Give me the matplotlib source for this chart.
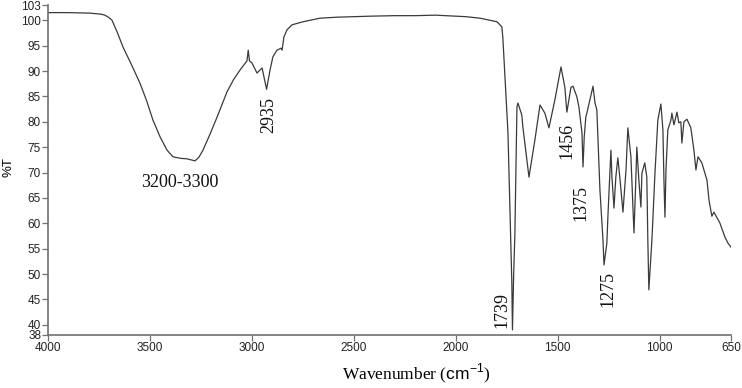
import matplotlib
matplotlib.use("Agg")
import matplotlib.pyplot as plt

# FTIR spectrum
wavenumber = [
    4000, 3900, 3794, 3740, 3721, 3700, 3686, 3660, 3632, 3590, 3549, 3515,
    3485, 3450, 3416, 3387, 3350, 3318, 3279, 3260, 3240, 3205, 3171, 3122,
    3090, 3058, 3024, 3018, 3012, 3000, 2975, 2950, 2928, 2911, 2897, 2877,
    2857, 2852, 2843, 2828, 2803, 2749, 2666, 2583, 2421, 2300, 2200, 2100,
    2000, 1950, 1881, 1798, 1774, 1769, 1744, 1725, 1722, 1716, 1710, 1700,
    1695, 1676, 1671, 1641, 1612, 1587, 1563, 1543, 1514, 1484, 1465, 1455,
    1435, 1425, 1406, 1396, 1381, 1376, 1370, 1362, 1357, 1327, 1317, 1308,
    1293, 1278, 1273, 1259, 1254, 1239, 1234, 1224, 1215, 1205, 1195, 1180,
    1165, 1156, 1141, 1126, 1117, 1112, 1102, 1092, 1087, 1073, 1063, 1058,
    1053, 1038, 1023, 1009, 994, 984, 979, 974, 969, 960, 945, 940,
    930, 915, 906, 896, 891, 881, 866, 847, 832, 822, 812, 793,
    768, 758, 744, 734, 705, 680, 665, 650,
]
transmittance = [
    101.5, 101.5, 101.4, 101.2, 101.0, 100.5, 100.0, 97.6, 94.7, 91.2, 87.6, 84.0,
    80.3, 77.0, 74.4, 73.1, 72.8, 72.7, 72.3, 73.0, 74.4, 77.6, 80.9, 85.9,
    88.3, 90.2, 92.0, 94.1, 92.0, 91.6, 89.6, 90.6, 86.4, 90.2, 92.8, 94.1,
    94.5, 94.1, 96.7, 98.1, 99.1, 99.7, 100.4, 100.6, 100.8, 100.9, 100.9, 101.0,
    100.8, 100.7, 100.4, 99.7, 98.7, 96.5, 77.8, 48.2, 39.0, 50.0, 58.1, 82.9,
    83.7, 81.3, 79.0, 69.1, 76.4, 83.3, 81.7, 78.8, 84.3, 90.8, 86.8, 81.9,
    86.8, 87.0, 84.9, 82.9, 77.8, 71.1, 77.0, 81.0, 81.7, 87.0, 83.7, 82.3,
    66.6, 56.7, 51.8, 56.1, 61.2, 74.4, 69.1, 63.0, 69.1, 72.9, 68.9, 62.2,
    70.5, 78.8, 73.1, 58.1, 68.5, 75.0, 68.5, 63.2, 69.9, 71.9, 69.1, 56.7,
    46.9, 56.7, 69.9, 80.3, 83.5, 78.4, 68.5, 61.2, 70.5, 78.4, 80.3, 81.7,
    79.4, 81.9, 79.8, 80.0, 75.8, 80.0, 80.5, 78.8, 74.4, 70.5, 73.1, 71.9,
    68.5, 64.6, 61.4, 62.2, 60.1, 57.3, 56.1, 55.3,
]

peak_labels = ["3200-3300", "2935", "1456", "1375", "1275", "1739"]
label_x = [3353, 2916, 1455, 1386, 1254, 1774]
label_y = [68.1, 81.3, 76.2, 64.0, 47.1, 42.9]
label_rot = [0, 90, 90, 90, 90, 90]

xticks = [4000, 3500, 3000, 2500, 2000, 1500, 1000, 650]
yticks = [38, 40, 45, 50, 55, 60, 65, 70, 75, 80, 85, 90, 95, 100, 103]

plt.rcParams["mathtext.fontset"] = "custom"
plt.rcParams["mathtext.rm"] = "Liberation Serif"
plt.rcParams["mathtext.sf"] = "Liberation Sans"

fig = plt.figure(figsize=(7.42, 3.88), dpi=100)
ax = fig.add_axes([0.0647, 0.1366, 0.9205, 0.8505])

ax.plot(wavenumber, transmittance, color="#3a3a3a", lw=0.9)

ax.set_xlim(4000, 650)
ax.set_ylim(38, 103)
ax.set_xticks(xticks)
ax.set_yticks(yticks)

for s in ["top", "right"]:
    ax.spines[s].set_visible(False)
for s in ["left", "bottom"]:
    ax.spines[s].set_color("#707070")
    ax.spines[s].set_linewidth(1.2)

ax.tick_params(colors="#707070", labelcolor="#222222", length=4, width=0.9,
               labelsize=8.5, pad=1)
for lab in ax.get_xticklabels() + ax.get_yticklabels():
    lab.set_fontfamily("Liberation Sans")

for txt, x, y, r in zip(peak_labels, label_x, label_y, label_rot):
    ax.text(x, y, txt, rotation=r, ha="center", va="center",
            fontsize=13, family="Liberation Serif", color="#111111")

ax.set_xlabel(r"Wavenumber ($\mathsf{cm}^{\mathsf{-1}}$)", fontsize=12.5,
              family="Liberation Serif", va="center")
ax.xaxis.set_label_coords(0.539, -0.115)
ax.set_ylabel("%T", fontsize=9.5, family="Liberation Sans", va="center")
ax.yaxis.set_label_coords(-0.058, 0.509)

fig.savefig("out.png", dpi=100)
